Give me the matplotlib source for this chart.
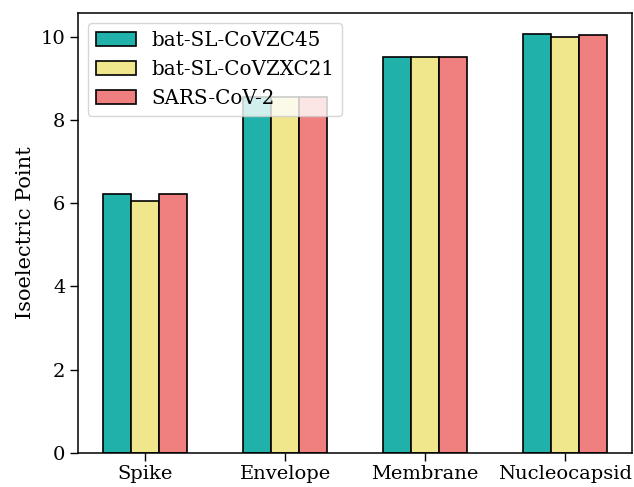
import numpy as np
import matplotlib.pyplot as plt

plt.rcParams['font.family'] = 'DejaVu Serif'

proteins = ['Spike', 'Envelope', 'Membrane', 'Nucleocapsid']
strains = ['bat-SL-CoVZC45', 'bat-SL-CoVZXC21', 'SARS-CoV-2']
pi_zc45 = [6.22, 8.55, 9.51, 10.06]
pi_zxc21 = [6.06, 8.55, 9.51, 10.00]
pi_sars2 = [6.22, 8.55, 9.51, 10.05]
colors = ['lightseagreen', 'khaki', 'lightcoral']

fig = plt.figure(figsize=(6.34, 4.87), dpi=100)
ax = fig.add_axes([0.123, 0.07, 0.874, 0.903])

x = np.arange(len(proteins))
width = 0.2
for i, (vals, name) in enumerate(zip([pi_zc45, pi_zxc21, pi_sars2], strains)):
    ax.bar(x + (i - 1) * width, vals, width=width, color=colors[i],
           edgecolor='black', linewidth=1.2, label=name)

ax.set_xticks(x)
ax.set_xticklabels(proteins, fontsize=14)
ax.tick_params(axis='both', labelsize=14, length=5.5, width=1.0)
ax.set_ylabel('Isoelectric Point', fontsize=15)
for s in ax.spines.values():
    s.set_linewidth(1.1)
ax.legend(loc='upper left', fontsize=14.3)

fig.savefig('out.png', dpi=100)
